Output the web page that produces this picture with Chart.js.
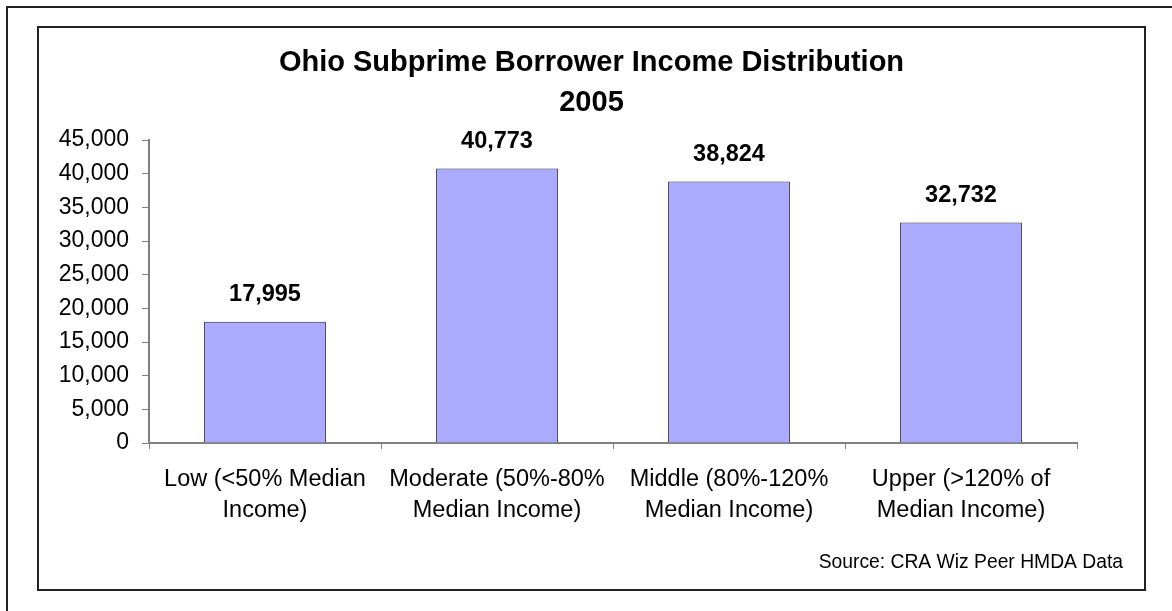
<!DOCTYPE html>
<html>
<head>
<meta charset="utf-8">
<script src="https://cdn.jsdelivr.net/npm/chart.js@4"></script>
<style>
  html, body { margin: 0; padding: 0; background: #fff; }
  #wrap { position: relative; width: 1172px; height: 611px; }
</style>
</head>
<body>
<div id="wrap"><canvas id="incomeChart"></canvas></div>
<script>
// Borrower income groups and subprime loan counts
var categories = [
    ['Low (<50% Median', 'Income)'],
    ['Moderate (50%-80%', 'Median Income)'],
    ['Middle (80%-120%', 'Median Income)'],
    ['Upper (>120% of', 'Median Income)']
];
var loans = [17995, 40773, 38824, 32732];
var yTicks = [0, 5000, 10000, 15000, 20000, 25000, 30000, 35000, 40000, 45000];

var titleLines = ['Ohio Subprime Borrower Income Distribution', '2005'];
var sourceNote = 'Source: CRA Wiz Peer HMDA Data';

var FONT = '"Liberation Sans", Arial, sans-serif';

function fmt(v) {
    return Number(v).toLocaleString('en-US');
}

// frames, title and source line
var framePlugin = {
    id: 'frames',
    beforeDraw: function (chart) {
        var c = chart.ctx;
        c.save();
        c.fillStyle = '#fff';
        c.fillRect(0, 0, chart.width, chart.height);
        c.strokeStyle = '#222';
        c.lineWidth = 2;
        c.beginPath();
        c.moveTo(7, chart.height);
        c.lineTo(7, 7);
        c.lineTo(chart.width, 7);
        c.stroke();
        c.strokeRect(38, 27, 1107, 563);
        c.restore();
    },
    afterDraw: function (chart) {
        var c = chart.ctx;
        c.save();
        c.fillStyle = '#000';
        c.textAlign = 'center';
        c.textBaseline = 'alphabetic';
        c.font = 'bold 29px ' + FONT;
        c.fillText(titleLines[0], 591.5, 71);
        c.fillText(titleLines[1], 591.5, 111);
        c.font = '19.3px ' + FONT;
        c.textAlign = 'right';
        c.fillText(sourceNote, 1123, 568);
        c.restore();
    }
};

// value printed above each bar
var valueLabels = {
    id: 'valueLabels',
    afterDatasetsDraw: function (chart) {
        var c = chart.ctx;
        var meta = chart.getDatasetMeta(0);
        c.save();
        c.fillStyle = '#000';
        c.font = 'bold 23.5px ' + FONT;
        c.textAlign = 'center';
        c.textBaseline = 'middle';
        meta.data.forEach(function (bar, i) {
            c.fillText(fmt(loans[i]), bar.x, bar.y - 27);
        });
        c.restore();
    }
};

new Chart(document.getElementById('incomeChart'), {
    type: 'bar',
    data: {
        labels: categories,
        datasets: [{
            data: loans,
            backgroundColor: '#aaaaff',
            borderColor: '#222244',
            borderWidth: 1,
            categoryPercentage: 1,
            barPercentage: 0.525
        }]
    },
    options: {
        responsive: true,
        maintainAspectRatio: false,
        animation: false,
        layout: {
            padding: { left: 0, right: 95, top: 140, bottom: 0 }
        },
        plugins: {
            legend: { display: false },
            tooltip: { enabled: false },
            title: { display: false }
        },
        scales: {
            x: {
                grid: {
                    display: true,
                    drawOnChartArea: false,
                    offset: true,
                    color: '#808080',
                    tickLength: 6
                },
                border: { color: '#808080', width: 2 },
                ticks: {
                    color: '#000',
                    padding: 15,
                    maxRotation: 0,
                    autoSkip: false,
                    font: { family: FONT, size: 23.5, lineHeight: 1.32 }
                },
                afterFit: function (scale) { scale.height = 168; }
            },
            y: {
                min: 0,
                max: 45000,
                afterBuildTicks: function (scale) {
                    scale.ticks = yTicks.map(function (v) { return { value: v }; });
                },
                grid: {
                    display: true,
                    drawOnChartArea: false,
                    color: '#808080',
                    tickLength: 7
                },
                border: { color: '#808080', width: 2 },
                ticks: {
                    color: '#000',
                    padding: 13,
                    font: { family: FONT, size: 23 },
                    callback: function (v) { return fmt(v); }
                },
                afterFit: function (scale) { scale.width = 149; }
            }
        }
    },
    plugins: [framePlugin, valueLabels]
});
</script>
</body>
</html>
